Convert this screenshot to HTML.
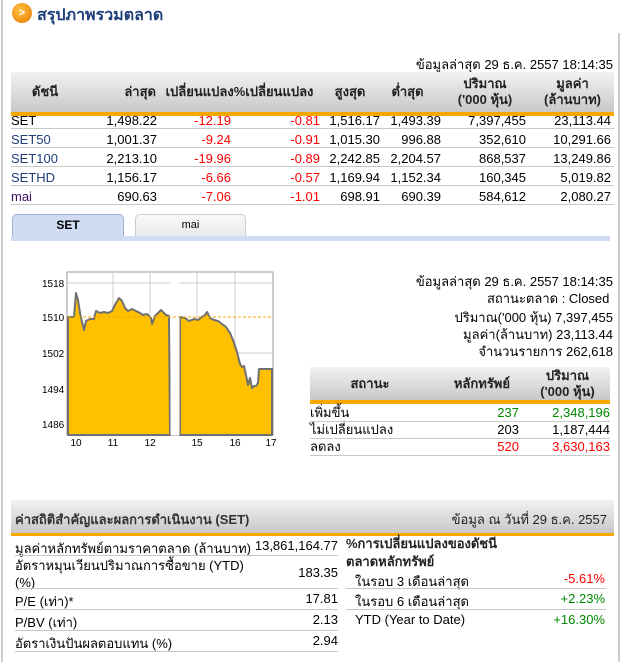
<!DOCTYPE html>
<html><head><meta charset="utf-8"><style>
*{margin:0;padding:0;box-sizing:border-box}
body{width:621px;height:662px;background:#fff;position:relative;overflow:hidden;font-family:"Liberation Sans","DejaVu Sans",sans-serif;font-size:12px;color:#000}
.a{position:absolute;white-space:nowrap}
.r{text-align:right}
.red{color:#f00}.grn{color:#080}.blu{color:#1f3f7a}
.hdr{position:absolute;background:linear-gradient(#f2f2f2,#c8c8c8);}
.org{position:absolute;background:#f6a800}
.sep{position:absolute;height:1px;background:#c8c8c8}
.th{font-weight:bold;color:#222;text-align:center;position:absolute;line-height:16px;font-size:13px}
</style></head><body>
<div class="a" style="left:1px;top:0;width:2px;height:662px;background:#ccc"></div>
<div class="a" style="left:618px;top:33px;width:2px;height:629px;background:#ccc"></div>
<div class="a" style="left:12px;top:3px;width:20px;height:20px;border-radius:50%;background:radial-gradient(circle at 40% 35%,#ffc040,#e57a00);color:#fff;font-size:11px;font-weight:bold;text-align:center;line-height:20px">&gt;</div>
<div class="a" style="left:37px;top:3px;font-size:16px;font-weight:bold;color:#1f3f7a">สรุปภาพรวมตลาด</div>

<div class="a r" style="right:8px;top:54px;font-size:13px">ข้อมูลล่าสุด 29 ธ.ค. 2557 18:14:35</div>
<div class="hdr" style="left:11px;top:72px;width:603px;height:40px"></div>
<div class="org" style="left:11px;top:112px;width:603px;height:4px"></div>
<div class="th" style="left:20px;top:84px;width:50px">ดัชนี</div>
<div class="th" style="left:100px;top:84px;width:56px;text-align:right">ล่าสุด</div>
<div class="th" style="left:152px;top:84px;width:175px">เปลี่ยนแปลง%เปลี่ยนแปลง</div>
<div class="th" style="left:330px;top:84px;width:40px">สูงสุด</div>
<div class="th" style="left:385px;top:84px;width:45px">ต่ำสุด</div>
<div class="th" style="left:440px;top:76px;width:90px">ปริมาณ<br>('000 หุ้น)</div>
<div class="th" style="left:530px;top:76px;width:85px">มูลค่า<br>(ล้านบาท)</div>

<div class="a" style="left:11px;top:111px;font-size:13px;line-height:19px">SET<br><span class="blu">SET50</span><br><span class="blu">SET100</span><br><span class="blu">SETHD</span><br><span style="color:#401060">mai</span></div>
<div class="sep" style="left:11px;top:128px;width:603px"></div>
<div class="sep" style="left:11px;top:147px;width:603px"></div>
<div class="sep" style="left:11px;top:166px;width:603px"></div>
<div class="sep" style="left:11px;top:185px;width:603px"></div>
<div class="sep" style="left:11px;top:204px;width:603px"></div>
<div class="a r" style="left:0;top:111px;width:157px;font-size:13px;line-height:19px">1,498.22<br>1,001.37<br>2,213.10<br>1,156.17<br>690.63</div>
<div class="a r red" style="left:0;top:111px;width:231px;font-size:13px;line-height:19px">-12.19<br>-9.24<br>-19.96<br>-6.66<br>-7.06</div>
<div class="a r red" style="left:0;top:111px;width:320px;font-size:13px;line-height:19px">-0.81<br>-0.91<br>-0.89<br>-0.57<br>-1.01</div>
<div class="a r" style="left:0;top:111px;width:380px;font-size:13px;line-height:19px">1,516.17<br>1,015.30<br>2,242.85<br>1,169.94<br>698.91</div>
<div class="a r" style="left:0;top:111px;width:441px;font-size:13px;line-height:19px">1,493.39<br>996.88<br>2,204.57<br>1,152.34<br>690.39</div>
<div class="a r" style="left:0;top:111px;width:526px;font-size:13px;line-height:19px">7,397,455<br>352,610<br>868,537<br>160,345<br>584,612</div>
<div class="a r" style="left:0;top:111px;width:611px;font-size:13px;line-height:19px">23,113.44<br>10,291.66<br>13,249.86<br>5,019.82<br>2,080.27</div>

<div class="a" style="left:12px;top:214px;width:112px;height:23px;background:#cfdcf3;border:1px solid #9ab0d6;border-bottom:none;border-radius:5px 5px 0 0;text-align:center;font-weight:bold;line-height:21px">SET</div>
<div class="a" style="left:135px;top:214px;width:111px;height:23px;background:linear-gradient(#fafafa,#e8e8e8);border:1px solid #ccc;border-bottom:none;border-radius:5px 5px 0 0;text-align:center;font-size:11px;line-height:21px">mai</div>
<div class="a" style="left:11px;top:236px;width:599px;height:5px;background:#cfdcf3"></div>

<svg class="a" style="left:0;top:260px" width="300" height="190" viewBox="0 260 300 190">
<rect x="67" y="272" width="206" height="163" fill="#fff" stroke="#999"/>
<g stroke="#ccc" stroke-width="1">
<line x1="67" y1="283" x2="273" y2="283"/><line x1="67" y1="353" x2="273" y2="353"/><line x1="67" y1="389" x2="273" y2="389"/><line x1="67" y1="424" x2="273" y2="424"/>
<line x1="113" y1="272" x2="113" y2="435"/><line x1="150" y1="272" x2="150" y2="435"/><line x1="197" y1="272" x2="197" y2="435"/><line x1="235" y1="272" x2="235" y2="435"/>
</g>
<path d="M68,317 L74,317 76,293 78,300 80,313 82,322 84,330 86,321 90,319 94,319 96,311 100,313 104,312 108,313 112,311 116,303 119,298 122,301 125,308 128,311 132,309 136,311 140,313 143,315 147,314 151,318 152,324 155,316 158,313 161,310 164,313 166,315 169,316 L170,435 L68,435Z" fill="#ffc000" stroke="#707070" stroke-width="2" stroke-linejoin="round"/>
<path d="M180,317 L185,318 189,321 194,319 198,320 202,317 205,315 207,312 210,318 214,320 218,321 222,324 226,327 230,333 233,340 237,352 240,364 242,367 244,366 246,375 248,385 250,378 252,388 254,386 256,386 258,383 259,369 270,369 L272,369 272,435 180,435Z" fill="#ffc000" stroke="#707070" stroke-width="2" stroke-linejoin="round"/>
<rect x="170.5" y="273" width="9" height="162" fill="#fff"/>
<line x1="68" y1="317" x2="272" y2="317" stroke="#f6a800" stroke-dasharray="3,2"/>
<g font-size="10" fill="#000" font-family="Liberation Sans,sans-serif">
<text x="42" y="287">1518</text><text x="42" y="321">1510</text><text x="42" y="357">1502</text><text x="42" y="393">1494</text><text x="42" y="428">1486</text>
<g text-anchor="middle"><text x="76" y="446">10</text><text x="113" y="446">11</text><text x="150" y="446">12</text><text x="197" y="446">15</text><text x="235" y="446">16</text><text x="271" y="446">17</text></g>
</g>
</svg>

<div class="a r" style="right:8px;top:273px;font-size:13px;line-height:17px">ข้อมูลล่าสุด 29 ธ.ค. 2557 18:14:35<br>สถานะตลาด : Closed&nbsp;</div>
<div class="a r" style="right:8px;top:309px;font-size:13px;line-height:17px">ปริมาณ('000 หุ้น) 7,397,455<br>มูลค่า(ล้านบาท) 23,113.44<br>จำนวนรายการ 262,618</div>

<div class="hdr" style="left:310px;top:367px;width:300px;height:33px"></div>
<div class="org" style="left:310px;top:400px;width:300px;height:4px"></div>
<div class="th" style="left:340px;top:376px;width:60px">สถานะ</div>
<div class="th" style="left:425px;top:376px;width:85px;text-align:right">หลักทรัพย์</div>
<div class="th" style="left:520px;top:368px;width:95px;text-align:center">ปริมาณ<br>('000 หุ้น)</div>
<div class="a" style="left:310px;top:404px;font-size:13px;line-height:17px">เพิ่มขึ้น<br>ไม่เปลี่ยนแปลง<br>ลดลง</div>
<div class="a r" style="left:0;top:404px;width:519px;font-size:13px;line-height:17px"><span class="grn">237</span><br>203<br><span class="red">520</span></div>
<div class="a r" style="left:0;top:404px;width:610px;font-size:13px;line-height:17px"><span class="grn">2,348,196</span><br>1,187,444<br><span class="red">3,630,163</span></div>
<div class="sep" style="left:310px;top:421px;width:300px"></div>
<div class="sep" style="left:310px;top:438px;width:300px"></div>
<div class="sep" style="left:310px;top:455px;width:300px"></div>

<div class="hdr" style="left:11px;top:500px;width:603px;height:33px"></div>
<div class="org" style="left:11px;top:533px;width:603px;height:3px"></div>
<div class="a" style="left:15px;top:509px;font-size:13px;font-weight:bold;color:#333">ค่าสถิติสำคัญและผลการดำเนินงาน (SET)</div>
<div class="a r" style="right:14px;top:509px;font-size:13px;color:#222">ข้อมูล ณ วันที่ 29 ธ.ค. 2557</div>

<div class="a" style="left:15px;top:538px;font-size:13px">มูลค่าหลักทรัพย์ตามราคาตลาด (ล้านบาท)</div>
<div class="a" style="left:15px;top:557px;font-size:13px;line-height:17px">อัตราหมุนเวียนปริมาณการซื้อขาย (YTD)<br>(%)</div>
<div class="a" style="left:15px;top:591px;font-size:13px">P/E (เท่า)*</div>
<div class="a" style="left:15px;top:612px;font-size:13px">P/BV (เท่า)</div>
<div class="a" style="left:15px;top:633px;font-size:13px">อัตราเงินปันผลตอบแทน (%)</div>
<div class="a r" style="left:0;width:338px;top:538px;font-size:13px">13,861,164.77</div>
<div class="a r" style="left:0;width:338px;top:565px;font-size:13px">183.35</div>
<div class="a r" style="left:0;width:338px;top:591px;font-size:13px">17.81</div>
<div class="a r" style="left:0;width:338px;top:612px;font-size:13px">2.13</div>
<div class="a r" style="left:0;width:338px;top:633px;font-size:13px">2.94</div>
<div class="sep" style="left:15px;top:555px;width:323px"></div>
<div class="sep" style="left:15px;top:588px;width:323px"></div>
<div class="sep" style="left:15px;top:609px;width:323px"></div>
<div class="sep" style="left:15px;top:630px;width:323px"></div>
<div class="sep" style="left:15px;top:651px;width:323px"></div>

<div class="a" style="left:346px;top:535px;font-size:13px;font-weight:bold;line-height:18px;color:#222">%การเปลี่ยนแปลงของดัชนี<br>ตลาดหลักทรัพย์</div>
<div class="a" style="left:355px;top:571px;font-size:13px">ในรอบ 3 เดือนล่าสุด</div>
<div class="a" style="left:355px;top:591px;font-size:13px">ในรอบ 6 เดือนล่าสุด</div>
<div class="a" style="left:355px;top:612px;font-size:13px">YTD (Year to Date)</div>
<div class="a r red" style="left:0;width:605px;top:571px;font-size:13px">-5.61%</div>
<div class="a r grn" style="left:0;width:605px;top:591px;font-size:13px">+2.23%</div>
<div class="a r grn" style="left:0;width:605px;top:612px;font-size:13px">+16.30%</div>
<div class="sep" style="left:346px;top:588px;width:260px"></div>
<div class="sep" style="left:346px;top:609px;width:260px"></div>
</body></html>
